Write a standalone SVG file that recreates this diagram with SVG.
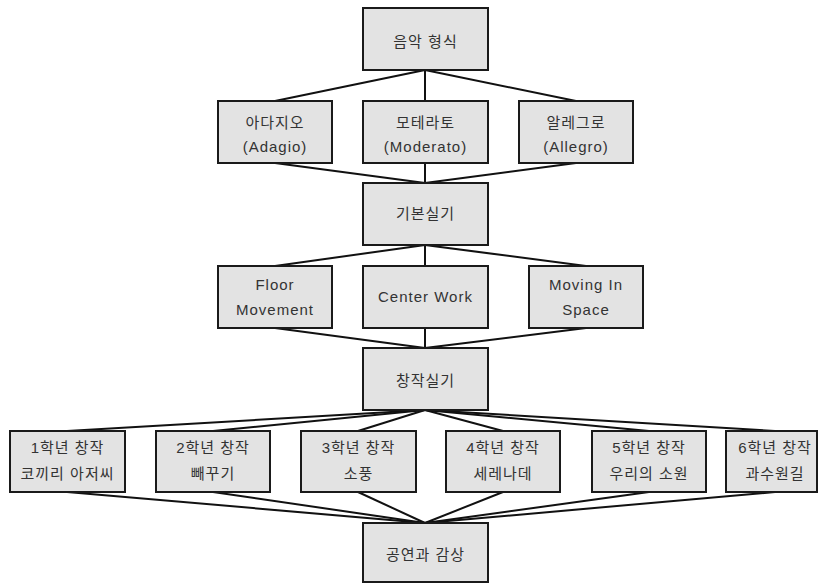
<svg xmlns="http://www.w3.org/2000/svg" width="819" height="585" viewBox="0 0 819 585">
<style>
.box{fill:#e3e3e3;stroke:#1a1a1a;stroke-width:2}
.t{font-family:"Liberation Sans","Noto Sans CJK KR",sans-serif;font-size:15px;fill:#333;text-anchor:middle;letter-spacing:1px}
.c line{stroke:#111;stroke-width:2}
</style>
<rect width="819" height="585" fill="#fff"/>
<g class="c" id="connectors">
<line x1="425" y1="70" x2="275" y2="101"/>
<line x1="425" y1="70" x2="425" y2="101"/>
<line x1="425" y1="70" x2="576" y2="101"/>
<line x1="275" y1="163" x2="425" y2="183"/>
<line x1="425" y1="163" x2="425" y2="183"/>
<line x1="576" y1="163" x2="425" y2="183"/>
<line x1="425" y1="245" x2="275" y2="266"/>
<line x1="425" y1="245" x2="425" y2="266"/>
<line x1="425" y1="245" x2="586" y2="266"/>
<line x1="275" y1="328" x2="425" y2="348"/>
<line x1="425" y1="328" x2="425" y2="348"/>
<line x1="586" y1="328" x2="425" y2="348"/>
<line x1="425" y1="410" x2="67" y2="431"/>
<line x1="425" y1="410" x2="213" y2="431"/>
<line x1="425" y1="410" x2="358" y2="431"/>
<line x1="425" y1="410" x2="503" y2="431"/>
<line x1="425" y1="410" x2="649" y2="431"/>
<line x1="425" y1="410" x2="775" y2="431"/>
<line x1="67" y1="492" x2="425" y2="523"/>
<line x1="213" y1="492" x2="425" y2="523"/>
<line x1="358" y1="492" x2="425" y2="523"/>
<line x1="503" y1="492" x2="425" y2="523"/>
<line x1="649" y1="492" x2="425" y2="523"/>
<line x1="775" y1="492" x2="425" y2="523"/>
</g>
<g id="n-form"><rect class="box" x="363" y="8" width="125" height="62"/><text class="t" x="425.5" y="47">음악 형식</text></g>
<g id="n-adagio"><rect class="box" x="218" y="101" width="114" height="62"/><text class="t" x="275" y="128">아다지오</text><text class="t" x="275" y="152">(Adagio)</text></g>
<g id="n-moderato"><rect class="box" x="363" y="101" width="125" height="62"/><text class="t" x="425.5" y="128">모테라토</text><text class="t" x="425.5" y="152">(Moderato)</text></g>
<g id="n-allegro"><rect class="box" x="519" y="101" width="114" height="62"/><text class="t" x="576" y="128">알레그로</text><text class="t" x="576" y="152">(Allegro)</text></g>
<g id="n-basic"><rect class="box" x="363" y="183" width="125" height="62"/><text class="t" x="425.5" y="219">기본실기</text></g>
<g id="n-floor"><rect class="box" x="218" y="266" width="114" height="62"/><text class="t" x="275" y="290">Floor</text><text class="t" x="275" y="315">Movement</text></g>
<g id="n-center"><rect class="box" x="363" y="266" width="125" height="62"/><text class="t" x="425.5" y="302">Center Work</text></g>
<g id="n-moving"><rect class="box" x="529" y="266" width="114" height="62"/><text class="t" x="586" y="290">Moving In</text><text class="t" x="586" y="315">Space</text></g>
<g id="n-creation"><rect class="box" x="363" y="348" width="125" height="62"/><text class="t" x="425.5" y="386">창작실기</text></g>
<g id="n-g1"><rect class="box" x="10" y="431" width="115" height="61"/><text class="t" x="67.5" y="453">1학년 창작</text><text class="t" x="67.5" y="479">코끼리 아저씨</text></g>
<g id="n-g2"><rect class="box" x="156" y="431" width="114" height="61"/><text class="t" x="213" y="453">2학년 창작</text><text class="t" x="213" y="479">빼꾸기</text></g>
<g id="n-g3"><rect class="box" x="301" y="431" width="115" height="61"/><text class="t" x="358.5" y="453">3학년 창작</text><text class="t" x="358.5" y="479">소풍</text></g>
<g id="n-g4"><rect class="box" x="446" y="431" width="114" height="61"/><text class="t" x="503" y="453">4학년 창작</text><text class="t" x="503" y="479">세레나데</text></g>
<g id="n-g5"><rect class="box" x="592" y="431" width="114" height="61"/><text class="t" x="649" y="453">5학년 창작</text><text class="t" x="649" y="479">우리의 소원</text></g>
<g id="n-g6"><rect class="box" x="726" y="431" width="91" height="61"/><text class="t" x="775" y="453">6학년 창작</text><text class="t" x="775" y="479">과수원길</text></g>
<g id="n-show"><rect class="box" x="363" y="523" width="125" height="59"/><text class="t" x="425.5" y="560">공연과 감상</text></g>
</svg>
